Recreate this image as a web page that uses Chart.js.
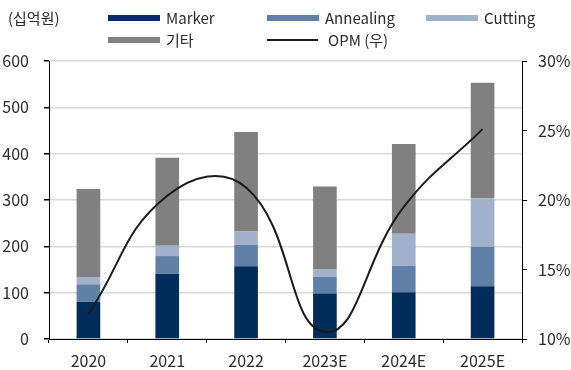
<!DOCTYPE html>
<html>
<head>
<meta charset="utf-8">
<script src="https://cdn.jsdelivr.net/npm/chart.js@4/dist/chart.umd.min.js"></script>
<style>
  html, body { margin: 0; padding: 0; background: #fff; }
  #wrap { width: 571px; height: 370px; }
</style>
</head>
<body>
<div id="wrap"><canvas id="salesChart" width="571" height="370"></canvas></div>
<script>
const years = ['2020', '2021', '2022', '2023E', '2024E', '2025E'];
const marker = [80, 141, 157, 98, 101, 114];
const annealing = [38, 38, 46, 36, 57, 85];
const cutting = [16, 22, 29, 17, 69, 105];
const etc = [190, 190, 215, 178, 194, 249];
const opm = [11.8, 20.3, 20.9, 10.5, 19.5, 25.1];
const leftTicks = [0, 100, 200, 300, 400, 500, 600];
const rightTicks = [10, 15, 20, 25, 30];

const FONT = '"Noto Sans CJK KR", "Noto Sans", sans-serif';
const TEXT = '#2a2a2a';

// legend drawn by hand so the columns line up like the original
const legendPlugin = {
    id: 'topLegend',
    afterDraw(chart) {
        const ctx = chart.ctx;
        const ds = chart.data.datasets;
        ctx.save();
        ctx.font = '15px ' + FONT;
        ctx.fillStyle = TEXT;
        ctx.textBaseline = 'middle';
        ctx.fillText('(십억원)', 8, 18);
        const items = [
            { i: 0, x: 108, y: 18 },
            { i: 1, x: 267, y: 18 },
            { i: 2, x: 426, y: 18 },
            { i: 3, x: 108, y: 40 },
            { i: 4, x: 267, y: 40 }
        ];
        items.forEach(it => {
            const d = ds[it.i];
            if (d.type === 'line') {
                ctx.strokeStyle = d.borderColor;
                ctx.lineWidth = 2;
                ctx.beginPath();
                ctx.moveTo(it.x, it.y);
                ctx.lineTo(it.x + 51, it.y);
                ctx.stroke();
                ctx.fillStyle = TEXT;
                ctx.fillText(d.label, it.x + 61, it.y);
            } else {
                ctx.fillStyle = d.backgroundColor;
                ctx.fillRect(it.x, it.y - 3, 52, 6);
                ctx.fillStyle = TEXT;
                ctx.fillText(d.label, it.x + 58, it.y);
            }
        });
        ctx.restore();
    }
};

new Chart(document.getElementById('salesChart'), {
    data: {
        labels: years,
        datasets: [
            { type: 'bar', label: 'Marker', data: marker, backgroundColor: '#002d59', yAxisID: 'y', order: 2 },
            { type: 'bar', label: 'Annealing', data: annealing, backgroundColor: '#6080a7', yAxisID: 'y', order: 2 },
            { type: 'bar', label: 'Cutting', data: cutting, backgroundColor: '#a1b1cb', yAxisID: 'y', order: 2 },
            { type: 'bar', label: '기타', data: etc, backgroundColor: '#808080', yAxisID: 'y', order: 2 },
            {
                type: 'line', label: 'OPM (우)', data: opm, borderColor: '#1a1a1a', borderWidth: 2,
                pointRadius: 0, tension: 0.45, fill: false, yAxisID: 'y2', order: 1
            }
        ]
    },
    options: {
        responsive: false,
        animation: false,
        layout: { padding: { top: 61, left: 0, right: 0, bottom: 0 } },
        datasets: { bar: { categoryPercentage: 1, barPercentage: 0.3 } },
        plugins: {
            legend: { display: false },
            tooltip: { enabled: false }
        },
        scales: {
            x: {
                stacked: true,
                afterFit: s => { s.height = 31; },
                grid: { drawOnChartArea: false, tickLength: 4, tickColor: '#000', offset: true },
                border: { color: '#000', width: 1 },
                ticks: { color: TEXT, font: { family: FONT, size: 16 }, padding: 8, maxRotation: 0 }
            },
            y: {
                stacked: true,
                min: 0, max: 600,
                afterFit: s => { s.width = 49; },
                afterBuildTicks: s => { s.ticks = leftTicks.map(v => ({ value: v })); },
                grid: { color: '#d9d9d9', lineWidth: 1.5, tickColor: '#000', tickLength: 5 },
                border: { color: '#000', width: 1 },
                ticks: { color: TEXT, font: { family: FONT, size: 16 }, padding: 15 }
            },
            y2: {
                position: 'right',
                min: 10, max: 30,
                afterFit: s => { s.width = 49; },
                afterBuildTicks: s => { s.ticks = rightTicks.map(v => ({ value: v })); },
                grid: { drawOnChartArea: false, tickColor: '#000', tickLength: 5 },
                border: { color: '#000', width: 1 },
                ticks: { color: TEXT, font: { family: FONT, size: 16 }, padding: 11, callback: v => v + '%' }
            }
        }
    },
    plugins: [legendPlugin]
});
</script>
</body>
</html>
